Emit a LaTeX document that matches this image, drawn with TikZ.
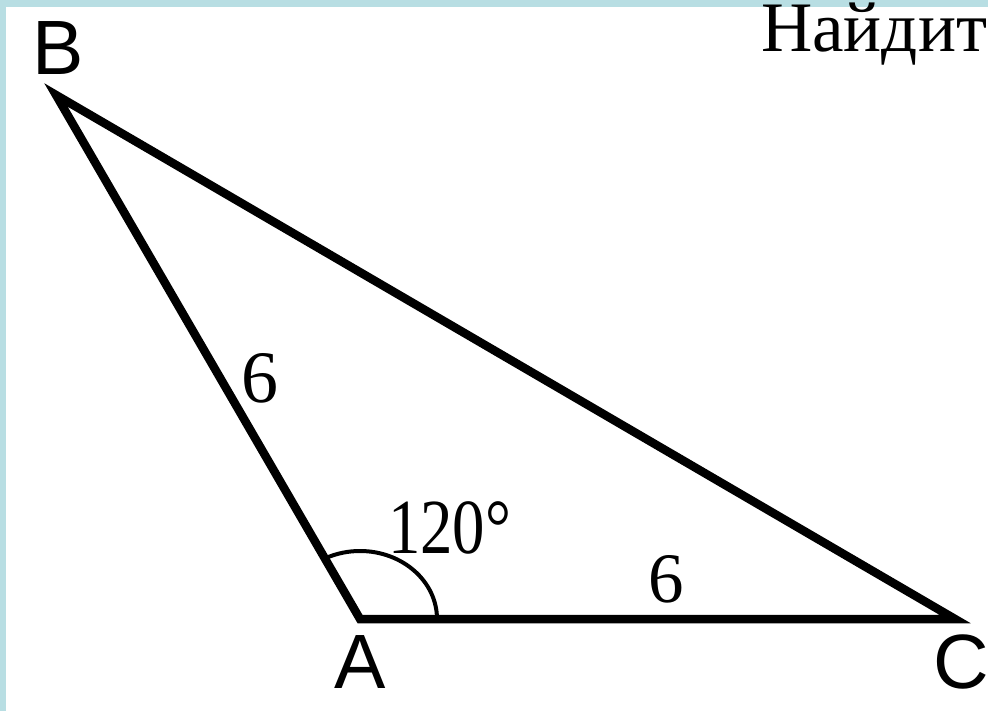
\documentclass[tikz,border=0pt]{standalone}
\usepackage{fontspec}
\setmainfont{Liberation Serif}
\newfontfamily\labelfont{Liberation Sans}
\newfontfamily\narrowfont[FakeStretch=0.83]{Liberation Serif}
\definecolor{bandcol}{RGB}{184,222,227}
\begin{document}
\begin{tikzpicture}[x=1pt,y=-1pt,
  side/.style={line width=8.5pt,line join=miter},
  vlabel/.style={font=\labelfont\fontsize{77}{77}\selectfont,inner sep=0pt},
  numlabel/.style={inner sep=0pt}]
\useasboundingbox (0,0) rectangle (988,711);
\fill[white] (0,0) rectangle (988,711);
\fill[bandcol] (0,0) rectangle (988,7);
\fill[bandcol] (0,0) rectangle (6,711);
\coordinate (B) at (56,95);
\coordinate (A) at (360,619);
\coordinate (C) at (955,619);
\draw[side] (B) -- (A) -- (C) -- cycle;
\draw[line width=4pt] (A) ++(77pt,0pt) arc[start angle=0,end angle=116,x radius=77pt,y radius=68pt];
\node[vlabel] (lB) at (58,48) {B};
\node[vlabel] (lA) at (360,662) {A};
\node[vlabel] (lC) at (961,662) {C};
\node[numlabel,font=\fontsize{74}{74}\selectfont] (s1) at (260,378) {6};
\node[numlabel,font=\fontsize{71}{71}\selectfont] (s2) at (666,579) {6};
\node[numlabel,anchor=base west,font=\narrowfont\fontsize{78}{78}\selectfont] (ang) at (388,553) {120°};
\begin{scope}
\clip (0,0) rectangle (988,711);
\node[inner sep=0pt,anchor=base west,font=\fontsize{71}{71}\selectfont] (title) at (761,52) {Найдит};
\end{scope}
\end{tikzpicture}
\end{document}
